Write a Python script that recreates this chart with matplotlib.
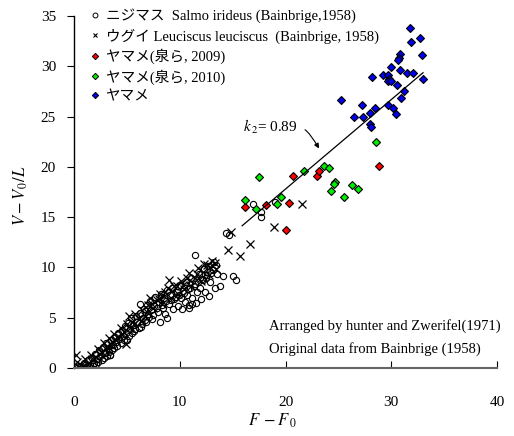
import matplotlib
matplotlib.use("Agg")
import matplotlib.pyplot as plt
from matplotlib.lines import Line2D

plt.rcParams['font.family'] = ['Liberation Serif', 'Noto Sans CJK JP']
plt.rcParams['mathtext.fontset'] = 'stix'

# ニジマス (circles)
niji_x = [0.3, 0.6, 0.9, 1.1, 1.2, 1.3, 1.5, 1.7, 1.9, 2.0, 2.2, 2.4, 2.5, 2.7, 2.9, 3.0, 3.2, 3.4,
          3.5, 3.7, 3.9, 4.0, 4.2, 4.3, 4.5, 4.6, 4.8, 4.9, 5.0, 5.1, 5.3, 5.4, 5.6, 5.7, 5.9, 6.0,
          6.2, 6.2, 6.3, 6.5, 6.6, 6.8, 6.9, 7.0, 7.2, 7.3, 7.4, 7.6, 7.7, 7.9, 8.0, 8.1, 8.2, 8.4,
          8.5, 8.6, 8.75, 8.8, 9.0, 9.1, 9.3, 9.4, 9.5, 9.7, 9.8, 10.0, 10.1, 10.2, 10.3, 10.5, 10.6,
          10.7, 10.9, 11.0, 11.1, 11.2, 11.4, 11.4, 11.5, 11.6, 11.8, 11.9, 12.0, 12.2, 12.3, 12.4,
          12.6, 12.7, 12.8, 12.9, 13.1, 13.2, 13.3, 13.5, 13.8, 14.06, 15.0, 15.3, 14.4, 14.7, 16.9,
          17.7, 17.7, 19.0, 10.9, 11.2, 3.4,
          1.0, 1.4, 1.8, 2.1, 2.3, 2.6, 2.8, 3.1, 3.3, 3.6, 3.8, 4.1, 4.4, 4.7, 5.2, 5.5, 5.8, 6.1,
          6.4, 6.7, 7.1, 7.5, 7.8, 8.3, 8.7, 9.2, 9.6, 9.9, 10.4, 10.8, 11.3, 11.7, 12.1, 12.5,
          13.0, 13.4]
niji_y = [0.0, 0.2, 0.5, 0.1, 0.2, 0.8, 0.3, 1.0, 0.5, 1.4, 0.9, 1.8, 1.2, 2.1, 1.5, 2.5, 1.9, 1.3,
          2.8, 2.3, 3.1, 2.6, 3.5, 2.9, 3.8, 3.2, 4.2, 3.5, 2.8, 4.5, 3.9, 5.0, 4.3, 3.7, 5.2, 4.6,
          6.4, 5.5, 4.1, 5.0, 5.9, 4.6, 6.3, 5.4, 6.7, 5.8, 4.9, 6.2, 7.1, 5.6, 6.6, 4.6, 7.4, 6.0,
          7.0, 5.4, 5.0, 7.8, 6.4, 7.3, 8.0, 5.9, 6.9, 7.6, 6.2, 8.3, 7.0, 5.9, 7.7, 6.6, 8.6,
          7.3, 6.0, 8.0, 9.0, 7.0, 11.2, 8.4, 6.5, 7.6, 9.3, 8.0, 6.9, 8.8, 9.8, 7.6,
          9.2, 10.1, 7.2, 8.6, 9.7, 10.5, 8.0, 9.3, 8.2, 9.15, 9.15, 8.8, 13.4, 13.2, 16.3,
          15.5, 15.0, 16.5, 6.3, 6.4, 1.3,
          0.0, 0.1, 0.2, 0.4, 0.6, 0.8, 1.0, 1.2, 1.6, 1.8, 2.0, 2.2, 2.5, 2.8, 3.2, 3.5, 3.9, 4.0,
          4.4, 4.8, 5.1, 5.3, 6.0, 6.3, 6.7, 6.8, 7.1, 7.3, 7.5, 7.9, 8.2, 8.6, 8.9, 9.0,
          9.4, 10.2]

# ウグイ (crosses)
ugui_x = [0.15, 0.3, 0.7, 1.0, 1.4, 1.6, 2.1, 2.3, 2.6, 2.8, 3.1, 3.3, 3.6, 3.8, 4.1, 4.4, 4.7, 4.9,
          5.0, 5.2, 5.5, 5.8, 6.1, 6.4, 6.7, 7.0, 7.2, 7.5, 7.8, 8.1, 8.3, 8.6, 8.9, 9.0, 9.2, 9.5,
          9.8, 10.1, 10.4, 10.7, 10.9, 11.1, 11.4, 11.7, 12.0, 12.3, 12.6, 12.8, 13.05, 13.4, 14.6,
          14.8, 15.7, 16.6, 18.9, 21.6,
          0.5, 1.2, 1.8, 2.5, 3.0, 3.5, 4.0, 4.5, 5.3, 5.7, 6.3, 6.9, 7.4, 8.0, 8.5, 9.3, 9.7, 10.3,
          11.0, 11.6, 12.2, 12.9, 13.3]
ugui_y = [1.3, 0.6, 0.3, 0.9, 0.5, 1.3, 1.1, 1.9, 1.6, 2.5, 2.2, 3.0, 2.6, 3.4, 3.1, 4.0, 3.6, 2.4,
          4.4, 5.2, 4.6, 5.4, 4.9, 5.8, 5.2, 6.3, 7.0, 6.0, 6.8, 7.4, 6.4, 7.6, 8.0, 8.75, 7.0, 8.2,
          7.4, 8.7, 7.9, 9.0, 9.45, 8.2, 9.0, 9.9, 8.7, 10.3, 10.2, 9.2, 10.6, 9.8, 11.7,
          13.5, 11.1, 12.3, 14.0, 16.3,
          0.1, 0.4, 0.9, 1.4, 1.9, 2.3, 2.8, 3.3, 4.0, 4.4, 4.7, 5.6, 6.4, 6.9, 7.2, 7.7, 8.2, 8.3,
          8.8, 9.3, 9.5, 10.0, 10.4]

# ヤマメ(泉ら, 2009) red
y09_x = [20.7, 23.0, 23.2, 28.8, 20.3, 18.2, 16.2, 20.0]
y09_y = [19.1, 19.1, 19.6, 20.1, 16.4, 16.2, 16.05, 13.7]

# ヤマメ(泉ら, 2010) green
y10_x = [28.6, 23.6, 24.1, 21.7, 24.7, 24.6, 24.3, 26.3, 26.9, 25.5, 19.6, 19.2, 17.5, 16.2, 17.2]
y10_y = [22.5, 20.1, 19.9, 19.6, 18.5, 18.3, 17.6, 18.2, 17.8, 17.0, 17.0, 16.3, 19.0, 16.7, 15.8]

# ヤマメ blue
yam_x = [31.8, 31.9, 32.7, 32.9, 30.8, 30.7, 30.6, 30.0, 30.8, 31.5, 32.1, 33.0, 28.2, 29.2, 29.7,
         29.8, 29.7, 30.0, 30.5, 31.2, 30.9, 25.2, 27.2, 28.5, 28.0, 27.3, 26.5, 29.7, 30.2, 30.4,
         28.0, 28.1]
yam_y = [33.8, 32.4, 32.8, 31.1, 31.2, 30.8, 30.6, 29.9, 29.6, 29.3, 29.3, 28.7, 28.9, 29.1, 29.1,
         28.7, 28.5, 28.5, 28.1, 27.6, 26.9, 26.7, 26.2, 25.9, 25.4, 25.0, 25.0, 26.2, 25.9, 25.3,
         24.3, 24.0]

slope = 0.89
line_x = [15.9, 33.0]

labels = ['ニジマス  Salmo irideus (Bainbrige,1958)',
          'ウグイ Leuciscus leuciscus  (Bainbrige, 1958)',
          'ヤマメ(泉ら, 2009)',
          'ヤマメ(泉ら, 2010)',
          'ヤマメ']

fig = plt.figure(figsize=(5.14, 4.36), dpi=100)
ax = fig.add_axes([0.144, 0.156, 0.823, 0.807])

ax.plot(niji_x, niji_y, 'o', ms=4.5, mfc='none', mec='black', mew=0.8)
ax.plot(ugui_x, ugui_y, 'x', ms=5.2, color='black', mew=0.9)
ax.plot(y09_x, y09_y, 'D', ms=3.8, mfc='#ff0000', mec='black', mew=0.8)
ax.plot(y10_x, y10_y, 'D', ms=3.8, mfc='#00ee00', mec='black', mew=0.8)
ax.plot(yam_x, yam_y, 'D', ms=3.8, mfc='#0000ee', mec='black', mew=0.8)
ax.plot(line_x, [slope * v for v in line_x], color='black', lw=0.9)

ax.annotate('', xy=(23.3, 21.6), xytext=(21.6, 23.8),
            arrowprops=dict(arrowstyle='-|>', color='black', lw=0.8, mutation_scale=7,
                            connectionstyle='angle3,angleA=0,angleB=-60'))
ax.text(18.6, 24.0, r'$k_{\,2}$' + '= 0.89', fontsize=11, ha='center', va='center')

handles = [
    Line2D([], [], ls='none', marker='o', ms=3.5, mfc='none', mec='black', mew=0.7),
    Line2D([], [], ls='none', marker='x', ms=3.5, color='black', mew=0.8),
    Line2D([], [], ls='none', marker='D', ms=3.2, mfc='#ff0000', mec='black', mew=0.7),
    Line2D([], [], ls='none', marker='D', ms=3.2, mfc='#00ee00', mec='black', mew=0.7),
    Line2D([], [], ls='none', marker='D', ms=3.2, mfc='#0000ee', mec='black', mew=0.7),
]
ax.legend(handles, labels, loc='upper left', bbox_to_anchor=(0.04, 1.022), frameon=False,
          fontsize=10.5, handlelength=0.6, handletextpad=0.4, labelspacing=0.35,
          borderaxespad=0, borderpad=0)

ax.text(0.46, 0.118, 'Arranged by hunter and Zwerifel(1971)', transform=ax.transAxes,
        fontsize=10.5, ha='left', va='center')
ax.text(0.46, 0.053, 'Original data from Bainbrige (1958)', transform=ax.transAxes,
        fontsize=10.5, ha='left', va='center')

ax.set_xlim(0, 40)
ax.set_ylim(0, 35)
ax.set_xticks([0, 10, 20, 30, 40])
ax.set_yticks([0, 5, 10, 15, 20, 25, 30, 35])
ax.tick_params(axis='x', direction='in', length=5, labelsize=11, pad=20)
ax.tick_params(axis='y', direction='out', length=5, labelsize=11, pad=8)
for s in ['top', 'right']:
    ax.spines[s].set_visible(False)
ax.spines['left'].set_linewidth(1.0)
ax.spines['bottom'].set_linewidth(1.5)
ax.spines['bottom'].set_color('#666666')

ax.set_xlabel(r'$F\;-F_{\,0}$', fontsize=12)
ax.xaxis.set_label_coords(0.47, -0.125)
ax.set_ylabel(r'$V-V_{\,0}/L$', fontsize=12)
ax.yaxis.set_label_coords(-0.105, 0.49)

fig.savefig('out.png', dpi=100)
